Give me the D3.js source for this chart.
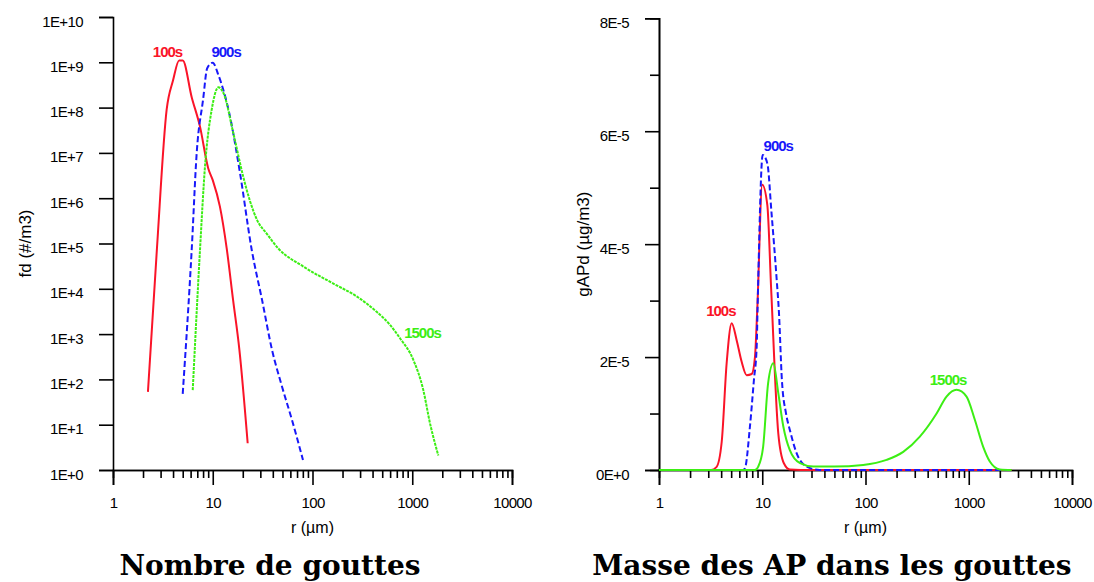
<!DOCTYPE html>
<html>
<head>
<meta charset="utf-8">
<script src="https://cdn.jsdelivr.net/npm/d3@7"></script>
<style>
  body { margin: 0; background: #fff; }
  svg text { font-family: "Liberation Sans", Arial, sans-serif; }
</style>
</head>
<body>
<div id="chart"></div>
<script>
// --- data ---
// left panel: number of drops fd (#/m3) against radius r (um)
const nbRed_r   = [2.24, 2.76, 3.45, 4.0, 4.6, 5.0, 6.15, 7.45, 9.0, 10.0, 11.8, 13.8, 16.0, 18.5, 22.4]
const nbRed_fd  = [53, 8e4, 9e7, 4e8, 1.1e9, 1.1e9, 1.7e8, 3.8e7, 4.6e6, 2.5e6, 6.5e5, 7.8e4, 5.6e3, 4.5e2, 3.9]
const nbBlue_r  = [5.0, 6.15, 6.9, 8.0, 8.8, 10.0, 11.4, 14.9, 18.8, 24.6, 31.2, 39.3, 48.3, 62.3, 80.3]
const nbBlue_fd = [48, 7.2e4, 9.8e6, 1.5e8, 7.4e8, 9.8e8, 5.2e8, 6.3e7, 3.5e6, 7.2e4, 5.7e3, 446, 83, 12.7, 1.66]
const nbGreen_r  = [6.3, 7.45, 8.36, 9.76, 11.4, 12.8, 16.1, 20.2, 23.5, 28, 34.7, 45.4, 81, 162, 277, 440, 598, 754, 1025, 1291, 1507, 1824]
const nbGreen_fd = [58, 7.2e4, 5e6, 9e7, 2.8e8, 2.1e8, 2.7e7, 3e6, 9e5, 3.2e5, 1.66e5, 7.8e4, 3.1e4, 1.3e4, 6.8e3, 3.1e3, 1.6e3, 810, 270, 58, 10.7, 2.1]

// right panel: mass of AP in drops gAPd (ug/m3), values in units of 1E-5
const mRed_r    = [1, 3.2, 3.6, 4.05, 4.52, 5.06, 5.65, 6.31, 7.06, 7.9, 8.5, 8.95, 10.0, 11.2, 12.2, 14.3, 16.2, 18.5, 30, 2600]
const mRed_g    = [0, 0, 0.05, 0.5, 1.89, 2.60, 2.30, 1.92, 1.68, 1.70, 2.0, 2.85, 5.05, 4.69, 3.2, 0.65, 0.12, 0.01, 0, 0]
const mBlue_r   = [1, 6.5, 6.8, 7.6, 8.3, 8.83, 9.0, 10.1, 11.2, 12.3, 13.8, 14.5, 15.5, 17, 18.5, 21.5, 26.9, 36, 2600]
const mBlue_g   = [0, 0, 0.03, 0.77, 1.59, 2.18, 2.83, 5.58, 5.43, 4.55, 3.37, 2.8, 1.59, 1.0, 0.71, 0.30, 0.06, 0, 0]
const mGreen_r  = [1, 8.5, 9.15, 10.2, 11.4, 12.8, 14.3, 16.0, 18.5, 23.2, 31.2, 50, 95, 160, 232, 336, 488, 609, 762, 952, 1145, 1380, 1600, 2000, 2600]
const mGreen_g  = [0, 0, 0.06, 0.41, 1.54, 1.89, 1.36, 0.77, 0.35, 0.12, 0.06, 0.06, 0.09, 0.18, 0.32, 0.59, 1.0, 1.30, 1.42, 1.30, 0.89, 0.41, 0.15, 0.01, 0]

const series   = ['100s', '900s', '1500s']
const xTicks   = [1, 10, 100, 1000, 10000]
const fdTicks  = [1, 10, 100, 1e3, 1e4, 1e5, 1e6, 1e7, 1e8, 1e9, 1e10]
const fdLabels = ['1E+0', '1E+1', '1E+2', '1E+3', '1E+4', '1E+5', '1E+6', '1E+7', '1E+8', '1E+9', '1E+10']
const gTicks   = [0, 2, 4, 6, 8]
const gLabels  = ['0E+0', '2E-5', '4E-5', '6E-5', '8E-5']
const gMinor   = [1, 3, 5, 7]

// label anchors in data units [r, value]
const nbLabelPos = [[3.52, 1.3e9], [13.6, 1.3e9], [1268, 820]]
const mLabelPos  = [[3.97, 2.73], [14.3, 5.65], [631, 1.5]]

const colors = ['#fa1428', '#1818fa', '#3cee14']

const W = 1094, H = 582
const svg = d3.select('#chart').append('svg')
    .attr('width', W).attr('height', H)

// minor log ticks 2..9 in each decade
const minorX = []
for (let d = 1; d < 10000; d *= 10)
    for (let k = 2; k < 10; k++) minorX.push(d * k)

function panel( opt ) {
    const x = d3.scaleLog().domain([1, 10000]).range(opt.xr)
    const y = opt.y
    const g = svg.append('g')

    // x axis, minors then majors
    g.append('g').attr('transform', `translate(0,${opt.y0})`)
        .call(d3.axisBottom(x).tickValues(minorX).tickSize(8).tickFormat(''))
    g.append('g').attr('transform', `translate(0,${opt.y0})`)
        .call(d3.axisBottom(x).tickValues(xTicks).tickSize(15).tickPadding(12).tickFormat(d3.format('d')))

    // y axis
    if ( opt.yMinor )
        g.append('g').attr('transform', `translate(${opt.xr[0]},0)`)
            .call(d3.axisLeft(y).tickValues(opt.yMinor).tickSize(9).tickFormat(''))
    const ya = g.append('g').attr('transform', `translate(${opt.xr[0]},0)`)
        .call(d3.axisLeft(y).tickValues(opt.yTicks).tickSize(14).tickPadding(16)
            .tickFormat((d, i) => opt.yLabels[i]))
    ya.selectAll('.tick text').attr('dy', '0.6em')

    g.selectAll('.domain').attr('stroke', '#000').attr('stroke-width', 1.6)
    g.selectAll('.tick line').attr('stroke', '#000').attr('stroke-width', 1.6)
    g.selectAll('.tick text').attr('fill', '#000')
        .style('font-size', '15px').style('letter-spacing', '-0.6px')
        .style('font-family', '"Liberation Sans", Arial, sans-serif')

    // axis titles
    g.append('text')
        .attr('x', (opt.xr[0] + opt.xr[1]) / 2).attr('y', 533)
        .attr('text-anchor', 'middle').style('font-size', '16px')
        .text('r (µm)')
    g.append('text')
        .attr('transform', `translate(${opt.ylx},${(y.range()[0] + y.range()[1]) / 2}) rotate(-90)`)
        .attr('text-anchor', 'middle').style('font-size', '17px')
        .text(opt.yTitle)

    // curves
    const line = d3.line().x(d => x(d[0])).y(d => y(d[1])).curve(d3.curveMonotoneX)
    opt.data.forEach((s, i) => {
        const pts = s[0].map((r, j) => [r, s[1][j]])
        g.append('path').datum(pts)
            .attr('d', line)
            .attr('fill', 'none')
            .attr('stroke', colors[i])
            .attr('stroke-width', opt.widths[i])
            .attr('stroke-dasharray', opt.dashes[i])
    })

    // series labels
    opt.labels.forEach((p, i) => {
        g.append('text')
            .attr('x', x(p[0])).attr('y', y(p[1]))
            .attr('text-anchor', 'middle')
            .attr('fill', colors[i])
            .style('font-size', '15px').style('font-weight', 'bold')
            .style('letter-spacing', '-1px')
            .text(series[i])
    })

    // panel title
    svg.append('text')
        .attr('x', opt.titleX).attr('y', 575)
        .attr('text-anchor', 'middle')
        .style('font-family', '"DejaVu Serif", "Liberation Serif", serif')
        .style('font-weight', 'bold').style('font-size', '28px')
        .text(opt.title)
}

panel({
    xr: [113, 512], y0: 470,
    y: d3.scaleLog().domain([1, 1e10]).range([470, 17]),
    yTicks: fdTicks, yLabels: fdLabels,
    yTitle: 'fd (#/m3)', ylx: 31,
    data: [[nbRed_r, nbRed_fd], [nbBlue_r, nbBlue_fd], [nbGreen_r, nbGreen_fd]],
    widths: [2, 2, 2], dashes: [null, '6,3', '3,1'],
    labels: nbLabelPos,
    title: 'Nombre de gouttes', titleX: 270
})

panel({
    xr: [659, 1072], y0: 470,
    y: d3.scaleLinear().domain([0, 8]).range([470, 18.3]),
    yTicks: gTicks, yLabels: gLabels, yMinor: gMinor,
    yTitle: 'gAPd (µg/m3)', ylx: 589,
    data: [[mRed_r, mRed_g], [mBlue_r, mBlue_g], [mGreen_r, mGreen_g]],
    widths: [2, 2, 2], dashes: [null, '6,3', null],
    labels: mLabelPos,
    title: 'Masse des AP dans les gouttes', titleX: 832
})
</script>
</body>
</html>
